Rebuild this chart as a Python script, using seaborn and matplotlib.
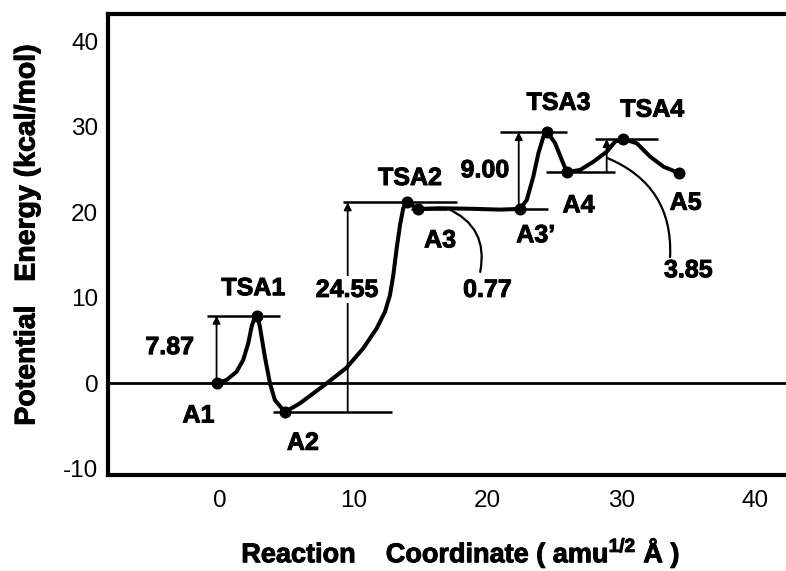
import matplotlib
matplotlib.use("Agg")
import matplotlib.pyplot as plt
import matplotlib.patheffects as pe
from matplotlib.patches import FancyArrowPatch
import pandas as pd
import seaborn as sns

# ---- reaction path (reaction coordinate, energy in kcal/mol) ----
path_x = [-0.25, 0.5, 1.25, 1.74, 2.12, 2.37, 2.55, 2.74, 2.86, 2.99, 3.36, 3.74,
          4.11, 4.86, 5.98, 6.98, 7.98, 9.47, 10.71, 11.72, 12.34, 12.71, 12.96,
          13.21, 13.46, 13.70, 13.96, 14.83, 16.45, 18.7, 20.93, 22.43, 22.93,
          23.42, 23.8, 24.17, 24.47, 25.05, 25.55, 25.92, 26.92, 27.91, 28.91,
          29.53, 30.15, 31.15, 32.15, 33.14, 34.32]
path_y = [0.0, 0.35, 1.33, 2.69, 4.65, 6.59, 7.45, 7.87, 7.45, 6.59, 3.08, -0.04,
          -1.99, -3.40, -2.38, -1.21, -0.04, 1.80, 4.06, 6.41, 8.35, 10.30, 12.65,
          15.77, 18.50, 20.46, 21.15, 20.38, 20.46, 20.4, 20.3, 20.38, 21.43,
          24.16, 26.9, 28.84, 29.38, 28.07, 26.11, 24.70, 24.94, 25.91, 27.08,
          28.26, 28.55, 28.07, 26.5, 25.33, 24.56]

# ---- stationary points ----
names = ["A1", "TSA1", "A2", "TSA2", "A3", "A3’", "TSA3", "A4", "TSA4", "A5"]
stat_x = [-0.25, 2.74, 4.86, 13.96, 14.83, 22.43, 24.47, 25.92, 30.15, 34.32]
stat_y = [0.0, 7.87, -3.40, 21.15, 20.38, 20.38, 29.38, 24.70, 28.55, 24.56]

# ---- barrier heights ----
barriers = ["7.87", "24.55", "0.77", "9.00", "3.85"]

xticks = [0, 10, 20, 30, 40]
yticks = [-10, 0, 10, 20, 30, 40]

sns.set_theme(style="white")
plt.rcParams["font.family"] = ["Liberation Sans", "DejaVu Sans"]
plt.rcParams["text.color"] = "black"
plt.rcParams["axes.unicode_minus"] = False
plt.rcParams["mathtext.fontset"] = "custom"
plt.rcParams["mathtext.rm"] = "Liberation Sans"
plt.rcParams["mathtext.bf"] = "Liberation Sans:bold"

E = dict(zip(names, stat_y))
X = dict(zip(names, stat_x))

fig = plt.figure(figsize=(7.86, 5.71), dpi=100)
ax = fig.add_axes([108 / 786, 1 - 475 / 571, 1 - 108 / 786, (475 - 14) / 571])

df_path = pd.DataFrame({"x": path_x, "y": path_y})
df_stat = pd.DataFrame({"x": stat_x, "y": stat_y, "name": names})

# zero-energy reference
ax.axhline(0, color="black", lw=2.0, zorder=1)

# energy level bars
levels = [("TSA1", -0.97, 4.49), ("A2", 3.97, 12.86), ("TSA2", 9.2, 17.7),
          ("A3", 14.3, 16.95), ("A3’", 21.0, 24.5), ("TSA3", 20.9, 25.9),
          ("A4", 24.4, 29.5), ("TSA4", 28.0, 32.7)]
for key, x0, x1 in levels:
    ax.hlines(E[key], x0, x1, color="black", lw=1.8, zorder=2)

sns.lineplot(data=df_path, x="x", y="y", color="black", lw=2.9, sort=False,
             ax=ax, zorder=4, solid_joinstyle="round", solid_capstyle="round")
sns.scatterplot(data=df_stat, x="x", y="y", color="black", s=75,
                edgecolor="black", linewidth=0, ax=ax, zorder=5)

# barrier arrows
def barrier_arrow(x, lo, hi):
    ax.annotate("", xy=(x, hi), xytext=(x, lo),
                arrowprops=dict(arrowstyle="-|>", color="black", lw=1.3,
                                mutation_scale=11, shrinkA=0, shrinkB=0),
                zorder=3)

barrier_arrow(X["A1"], E["A1"], E["TSA1"])
barrier_arrow(9.55, E["A2"], E["TSA2"])
barrier_arrow(22.33, E["A3’"], E["TSA3"])
barrier_arrow(28.9, E["A4"], E["TSA4"])

# curved leaders
for p0, p1, rad in [((16.97, 20.45), (19.45, 13.0), -0.4),
                    ((28.93, 26.35), (33.64, 14.75), -0.35)]:
    ax.add_patch(FancyArrowPatch(p0, p1, arrowstyle="-", color="black", lw=1.6,
                                 connectionstyle=f"arc3,rad={rad}",
                                 shrinkA=0, shrinkB=0, zorder=3))

heavy = [pe.withStroke(linewidth=0.7, foreground="black")]
bold = dict(fontsize=18, fontweight="bold", ha="center", va="center", zorder=6,
            color="black", path_effects=heavy)
label_pos = {"A1": (-1.6, -3.8), "TSA1": (2.5, 11.1), "A2": (6.2, -7.0),
             "TSA2": (14.2, 24.0), "A3": (16.45, 16.7), "A3’": (23.6, 17.3),
             "TSA3": (25.3, 32.8), "A4": (26.8, 20.8), "TSA4": (32.3, 32.0),
             "A5": (34.8, 21.1)}
for n in names:
    ax.text(*label_pos[n], n, **bold)

barrier_pos = [(-3.74, 4.2), (9.5, 10.9), (20.0, 10.9), (19.8, 24.9), (35.0, 13.2)]
for txt, (bx, by) in zip(barriers, barrier_pos):
    kw = dict(bold)
    if txt == "24.55":
        kw["bbox"] = dict(facecolor="white", edgecolor="none", pad=1)
    ax.text(bx, by, txt, **kw)

ax.set_xlim(-8.36, 42.3)
ax.set_ylim(-10.77, 43.2)
ax.set_xticks(xticks)
ax.set_yticks(yticks)
ax.set_xticklabels([str(t) for t in xticks])
ax.set_yticklabels([str(t) for t in yticks])
ax.tick_params(axis="both", direction="in", length=5, width=2, labelsize=17.5,
               colors="black")
ax.tick_params(axis="x", pad=11)
ax.tick_params(axis="y", pad=7)
for side in ["left", "bottom", "top"]:
    ax.spines[side].set_linewidth(3)
    ax.spines[side].set_color("black")
ax.spines["right"].set_visible(False)
ax.set_xlabel("")
ax.set_ylabel("")

fig.text(27.5 / 786, 1 - 235 / 571, "Potential   Energy (kcal/mol)", rotation=90,
         ha="center", va="center", fontsize=20.5, fontweight="bold",
         color="black", path_effects=heavy)
fig.text(461 / 786, 1 - 553 / 571,
         r"Reaction    Coordinate ( amu$^{\mathbf{1/2}}$ Å )",
         ha="center", va="center", fontsize=19.5, fontweight="bold",
         color="black", path_effects=heavy)

fig.savefig("out.png", dpi=100)
